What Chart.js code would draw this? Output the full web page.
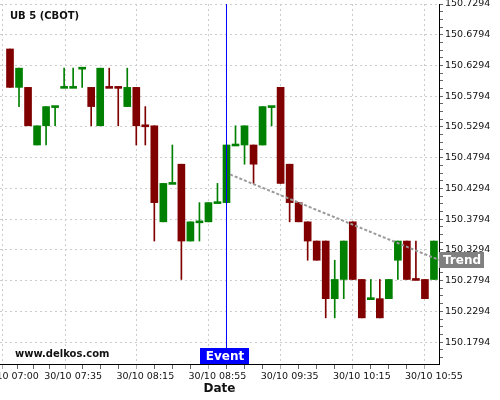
<!DOCTYPE html>
<html>
<head>
<meta charset="utf-8">
<script src="https://cdn.jsdelivr.net/npm/chart.js@4.4.0/dist/chart.umd.min.js"></script>
<style>
  html, body { margin: 0; padding: 0; background: #fff; }
</style>
</head>
<body>
<canvas id="chart" width="500" height="400"></canvas>
<script>
// UB 5 (CBOT), 5 minute candles from 30/10 07:00 to 30/10 10:55
const opens = [150.65625,150.59375,150.59375,150.5,150.53125,150.5625,150.59375,150.59375,150.625,150.59375,
  150.53125,150.59375,150.59375,150.5625,150.59375,150.53125,150.53125,150.375,150.4375,150.46875,
  150.34375,150.375,150.375,150.40625,150.40625,150.5,150.5,150.5,150.5,150.5625,
  150.59375,150.46875,150.40625,150.375,150.34375,150.34375,150.25,150.28125,150.375,150.28125,
  150.25,150.25,150.25,150.3125,150.34375,150.28125,150.28125,150.28125];
const highs = [150.65625,150.625,150.59375,150.53125,150.5625,150.5625,150.625,150.625,150.625,150.59375,
  150.625,150.625,150.59375,150.625,150.59375,150.5625,150.53125,150.4375,150.5,150.46875,
  150.375,150.40625,150.40625,150.4375,150.5,150.53125,150.53125,150.5,150.5625,150.5625,
  150.59375,150.46875,150.40625,150.375,150.34375,150.34375,150.3125,150.34375,150.375,150.28125,
  150.28125,150.28125,150.28125,150.34375,150.34375,150.34375,150.28125,150.34375];
const lows = [150.59375,150.5625,150.53125,150.5,150.5,150.53125,150.59375,150.59375,150.59375,150.53125,
  150.53125,150.59375,150.53125,150.5625,150.5,150.5,150.34375,150.375,150.4375,150.28125,
  150.34375,150.34375,150.375,150.40625,150.40625,150.5,150.46875,150.4375,150.5,150.53125,
  150.4375,150.375,150.375,150.3125,150.3125,150.21875,150.21875,150.25,150.28125,150.21875,
  150.25,150.21875,150.25,150.28125,150.28125,150.28125,150.25,150.28125];
const closes = [150.59375,150.625,150.53125,150.53125,150.5625,150.5625,150.59375,150.59375,150.625,150.5625,
  150.625,150.59375,150.59375,150.59375,150.53125,150.53125,150.40625,150.4375,150.4375,150.34375,
  150.375,150.375,150.40625,150.40625,150.5,150.5,150.53125,150.46875,150.5625,150.5625,
  150.4375,150.40625,150.375,150.34375,150.3125,150.25,150.28125,150.34375,150.28125,150.21875,
  150.25,150.21875,150.28125,150.34375,150.28125,150.28125,150.25,150.34375];
// unchanged candles that are shown as down candles
const flatDown = [11, 12, 15, 45];

const xTickIdx = [0, 7, 15, 23, 31, 39, 47];
const xTickLabels = ['30/10 07:00', '30/10 07:35', '30/10 08:15', '30/10 08:55', '30/10 09:35', '30/10 10:15', '30/10 10:55'];
const yTicks = [150.1794, 150.2294, 150.2794, 150.3294, 150.3794, 150.4294, 150.4794,
  150.5294, 150.5794, 150.6294, 150.6794, 150.7294];

const trendX = [24.4, 47.56];
const trendY = [150.452, 150.313];
const eventIdx = 24;

const FONT = 'DejaVu Sans';
const yMin = 150.1437, yMax = 150.7294;
const xMin = -1.109, xMax = 47.56;
const GREEN = '#008000', RED = '#800000';
const DOJI = 0.0016;

const isUp = i => closes[i] > opens[i] || (closes[i] === opens[i] && !flatDown.includes(i));
const colors = opens.map((o, i) => isUp(i) ? GREEN : RED);
const wicks = highs.map((h, i) => ({ x: i, y: [lows[i], h] }));
const bodies = opens.map((o, i) => {
  const lo = Math.min(o, closes[i]), hi = Math.max(o, closes[i]);
  return { x: i, y: hi - lo < 1e-9 ? [lo - DOJI, hi + DOJI] : [lo, hi] };
});

function xTickValues() {
  const out = [];
  for (let j = 0; j < xTickIdx.length - 1; j++) {
    const a = xTickIdx[j], b = xTickIdx[j + 1];
    for (let q = 0; q < 4; q++) out.push(a + (b - a) * q / 4);
  }
  out.push(xTickIdx[xTickIdx.length - 1]);
  return out;
}
function yTickValues() {
  const out = [];
  yTicks.forEach(v => {
    out.push(v);
    for (let q = 1; q < 4; q++) {
      const m = +(v - q * 0.0125).toFixed(5);
      if (m >= yMin) out.push(m);
    }
  });
  return out.sort((a, b) => a - b);
}
const isMajorX = v => xTickIdx.includes(v);
const isMajorY = v => yTicks.some(t => Math.abs(t - v) < 1e-6);

const overlay = {
  id: 'overlay',
  afterDraw(chart) {
    const { ctx, chartArea: a, scales: { x, y } } = chart;
    ctx.save();
    ctx.textBaseline = 'middle';
    ctx.textAlign = 'left';
    ctx.fillStyle = '#111';
    ctx.font = 'bold 10px ' + FONT;
    ctx.fillText('UB 5 (CBOT)', 10, 16);
    ctx.fillText('www.delkos.com', 15, 354);

    const ex = Math.round(x.getPixelForValue(eventIdx));
    ctx.fillStyle = '#0000ff';
    ctx.fillRect(ex - 26, a.bottom - 16, 49, 16);
    ctx.fillStyle = '#fff';
    ctx.font = 'bold 12px ' + FONT;
    ctx.textAlign = 'center';
    ctx.fillText('Event', ex - 1, a.bottom - 7.5);

    const ty = Math.round(y.getPixelForValue(trendY[1]));
    ctx.fillStyle = '#808080';
    ctx.fillRect(a.right, ty - 8, 45, 16);
    ctx.fillStyle = '#fff';
    ctx.fillText('Trend', a.right + 23, ty + 0.5);
    ctx.restore();
  }
};

new Chart(document.getElementById('chart'), {
  type: 'bar',
  data: {
    datasets: [
      {
        type: 'line',
        data: [{ x: trendX[0], y: trendY[0] }, { x: trendX[1], y: trendY[1] }],
        borderColor: '#9a9a9a',
        borderWidth: 2,
        borderDash: [3, 2],
        pointRadius: 0,
        order: 0
      },
      {
        type: 'line',
        data: [{ x: eventIdx, y: yMin }, { x: eventIdx, y: yMax }],
        borderColor: '#0000ff',
        borderWidth: 1,
        pointRadius: 0,
        order: 0
      },
      {
        data: bodies,
        backgroundColor: colors,
        barThickness: 7,
        grouped: false,
        borderWidth: 0,
        order: 1
      },
      {
        data: wicks,
        backgroundColor: colors,
        barThickness: 1,
        grouped: false,
        borderWidth: 0,
        order: 2
      }
    ]
  },
  options: {
    responsive: false,
    animation: false,
    events: [],
    layout: { padding: { top: 4, left: 0, right: 0, bottom: 0 } },
    plugins: { legend: { display: false }, tooltip: { enabled: false } },
    scales: {
      x: {
        type: 'linear',
        min: xMin,
        max: xMax,
        offset: false,
        afterBuildTicks: s => { s.ticks = xTickValues().map(v => ({ value: v })); },
        afterFit: s => { s.height = 36; s.paddingLeft = 0; s.paddingRight = 0; },
        ticks: {
          autoSkip: false,
          maxRotation: 0,
          padding: 2,
          color: '#111',
          font: { family: FONT, size: 9.5 },
          callback: v => {
            const k = xTickIdx.indexOf(v);
            return k >= 0 ? xTickLabels[k] : '';
          }
        },
        grid: {
          color: c => (c.tick && isMajorX(c.tick.value)) ? '#cccccc' : 'rgba(0,0,0,0)',
          tickColor: c => (c.tick && isMajorX(c.tick.value)) ? '#aaaaaa' : '#666666',
          tickLength: 5,
          tickBorderDash: [],
          lineWidth: 1
        },
        border: { color: '#000', width: 1, dash: [2, 3] },
        title: {
          display: true,
          text: 'Date',
          color: '#111',
          font: { family: FONT, size: 12, weight: 'bold' },
          padding: { top: 0, bottom: 4 }
        }
      },
      y: {
        position: 'right',
        min: yMin,
        max: yMax,
        afterBuildTicks: s => { s.ticks = yTickValues().map(v => ({ value: v })); },
        afterFit: s => { s.width = 61; s.paddingTop = 0; s.paddingBottom = 0; },
        ticks: {
          autoSkip: false,
          padding: 2,
          color: '#111',
          font: { family: FONT, size: 9.5 },
          callback: v => isMajorY(v) ? v.toFixed(4) : ''
        },
        grid: {
          color: c => (c.tick && isMajorY(c.tick.value)) ? '#cccccc' : 'rgba(0,0,0,0)',
          tickColor: '#666666',
          tickLength: 4,
          tickBorderDash: [],
          lineWidth: 1
        },
        border: { color: '#000', width: 1, dash: [2, 3] }
      }
    }
  },
  plugins: [overlay]
});
</script>
</body>
</html>
